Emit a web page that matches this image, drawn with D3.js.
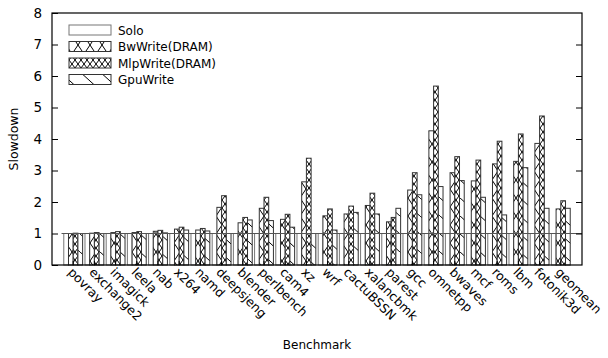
<!DOCTYPE html>
<html>
<head>
<meta charset="utf-8">
<script src="https://cdn.jsdelivr.net/npm/d3@7"></script>
<style>
  body { margin: 0; background: #fff; }
  text { font-family: "DejaVu Sans", Verdana, sans-serif; font-size: 12px; fill: #000; }
</style>
</head>
<body>
<svg id="chart" width="608" height="358"></svg>
<script>
// benchmark names along the x axis
const benchmarks = ['povray', 'exchange2', 'imagick', 'leela', 'nab', 'x264', 'namd', 'deepsjeng',
  'blender', 'perlbench', 'cam4', 'xz', 'wrf', 'cactuBSSN', 'xalancbmk', 'parest', 'gcc',
  'omnetpp', 'bwaves', 'mcf', 'roms', 'lbm', 'fotonik3d', 'geomean'];

const seriesNames = ['Solo', 'BwWrite(DRAM)', 'MlpWrite(DRAM)', 'GpuWrite'];

const solo = [1, 1, 1, 1, 1, 1, 1, 1, 1, 1, 1, 1, 1, 1, 1, 1, 1, 1, 1, 1, 1, 1, 1, 1];
const bwWrite = [1.0, 1.01, 1.03, 1.03, 1.07, 1.14, 1.11, 1.83, 1.34, 1.8, 1.45, 2.64,
  1.56, 1.62, 1.89, 1.37, 2.38, 4.26, 2.93, 2.67, 3.21, 3.29, 3.86, 1.78];
const mlpWrite = [1.01, 1.03, 1.06, 1.06, 1.1, 1.2, 1.16, 2.2, 1.51, 2.15, 1.61, 3.39,
  1.78, 1.87, 2.28, 1.51, 2.93, 5.68, 3.44, 3.33, 3.93, 4.16, 4.73, 2.04];
const gpuWrite = [1.0, 1.0, 1.0, 1.0, 1.02, 1.11, 1.08, 1.0, 1.43, 1.41, 1.2, 1.0,
  1.11, 1.67, 1.62, 1.8, 2.23, 2.49, 2.68, 2.15, 1.59, 3.09, 1.8, 1.8];

const yTicks = [0, 1, 2, 3, 4, 5, 6, 7, 8];

const series = [solo, bwWrite, mlpWrite, gpuWrite];
const fills = ['#fff', 'url(#pBw)', 'url(#pMlp)', 'url(#pGpu)'];

const plotL = 52, plotR = 582, plotT = 13, plotB = 265;
const svg = d3.select('#chart');

const x = d3.scaleLinear().domain([-1, benchmarks.length]).range([plotL, plotR]);
const y = d3.scaleLinear().domain([0, 8]).range([plotB, plotT]);
const slot = 1 / 4.5;   // width of one bar in group units (gap 0.5)

// fill patterns
const defs = svg.append('defs');
function pattern(id, w, h, paths) {
  const p = defs.append('pattern').attr('id', id).attr('patternUnits', 'userSpaceOnUse')
    .attr('width', w).attr('height', h);
  p.append('rect').attr('width', w).attr('height', h).attr('fill', '#fff');
  paths.forEach(d => p.append('path').attr('d', d).attr('stroke', '#000')
    .attr('stroke-width', 1).attr('fill', 'none'));
}
pattern('pBw', 12, 18, ['M0,0L12,18', 'M12,0L0,18']);
pattern('pMlp', 6, 8, ['M0,0L6,8', 'M6,0L0,8']);
pattern('pGpu', 20, 18, ['M-1,-1L21,19']);

// bars
series.forEach((vals, j) => {
  svg.append('g').selectAll('rect').data(vals).enter().append('rect')
    .attr('x', (d, i) => x(i + (j - 2) * slot))
    .attr('width', x(slot) - x(0))
    .attr('y', d => y(d))
    .attr('height', d => y(0) - y(d))
    .attr('fill', fills[j])
    .attr('stroke', j === 0 ? '#777' : '#333')
    .attr('stroke-width', 1);
});

// reference line at 1
svg.append('line').attr('x1', x(-0.55)).attr('x2', plotR)
  .attr('y1', y(1)).attr('y2', y(1)).attr('stroke', '#555').attr('stroke-width', 1);

// y axis ticks, mirrored on the right
const yAxisL = d3.axisLeft(y).tickValues(yTicks).tickSize(-6).tickPadding(10);
svg.append('g').attr('transform', `translate(${plotL},0)`).call(yAxisL)
  .call(g => g.select('.domain').remove())
  .call(g => g.selectAll('text').style('font-size', '13.5px'));
const yAxisR = d3.axisRight(y).tickValues(yTicks.slice(1, -1)).tickSize(-6).tickFormat('');
svg.append('g').attr('transform', `translate(${plotR},0)`).call(yAxisR)
  .call(g => g.select('.domain').remove());

// x ticks and rotated labels
const xg = svg.append('g');
xg.selectAll('line').data(benchmarks).enter().append('line')
  .attr('x1', (d, i) => x(i)).attr('x2', (d, i) => x(i))
  .attr('y1', plotB).attr('y2', plotB - 4).attr('stroke', '#000');
xg.selectAll('text').data(benchmarks).enter().append('text')
  .attr('transform', (d, i) => `translate(${x(i) - 6},${plotB + 8}) rotate(45)`)
  .attr('text-anchor', 'start')
  .style('font-size', '12.5px')
  .text(d => d);

// frame
svg.append('rect').attr('x', plotL).attr('y', plotT).attr('width', plotR - plotL)
  .attr('height', plotB - plotT).attr('fill', 'none').attr('stroke', '#000').attr('stroke-width', 1.2);

// axis titles
svg.append('text').attr('x', (plotL + plotR) / 2).attr('y', 349).attr('text-anchor', 'middle')
  .text('Benchmark');
svg.append('text').attr('transform', `translate(18,${(plotT + plotB) / 2}) rotate(-90)`)
  .attr('text-anchor', 'middle').style('font-size', '12.5px').text('Slowdown');

// legend
const legend = svg.append('g');
seriesNames.forEach((name, j) => {
  const cy = 30 + j * 16.5;
  legend.append('rect').attr('x', 69).attr('y', cy - 5).attr('width', 42).attr('height', 10)
    .attr('fill', fills[j]).attr('stroke', j === 0 ? '#777' : '#333');
  legend.append('text').attr('x', 118).attr('y', cy + 4.5).text(name);
});
</script>
</body>
</html>
